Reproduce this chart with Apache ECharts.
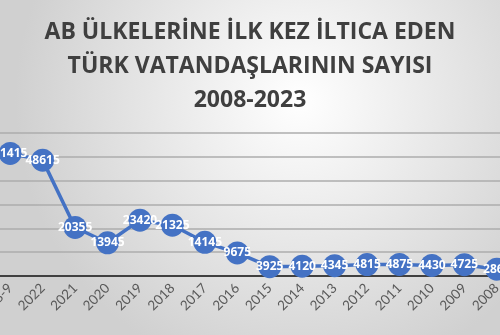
<!DOCTYPE html>
<html>
<head>
<meta charset="utf-8">
<script src="https://cdn.jsdelivr.net/npm/echarts@6/dist/echarts.min.js"></script>
<style>
  html, body { margin: 0; padding: 0; }
  #chart { width: 500px; height: 335px; }
</style>
</head>
<body>
<div id="chart"></div>
<script>
// Yearly first-time asylum applications by Turkish citizens in EU countries
const years = ['2023-9', '2022', '2021', '2020', '2019', '2018', '2017', '2016',
               '2015', '2014', '2013', '2012', '2011', '2010', '2009', '2008'];
const applicants = [51415, 48615, 20355, 13945, 23420, 21325, 14145, 9675,
                    3925, 4120, 4345, 4815, 4875, 4430, 4725, 2860];
const titleLines = ['AB ÜLKELERİNE İLK KEZ İLTICA EDEN', 'TÜRK VATANDAŞLARININ SAYISI', '2008-2023'];

const chart = echarts.init(document.getElementById('chart'), null, { renderer: 'canvas' });

chart.setOption({
  animation: false,
  backgroundColor: {
    type: 'radial', x: 0.6, y: 0.3, r: 0.85,
    colorStops: [
      { offset: 0, color: '#ffffff' },
      { offset: 1, color: '#d0d0d0' }
    ]
  },
  title: {
    text: titleLines.join('\n'),
    left: 'center',
    top: 10,
    textStyle: {
      fontFamily: 'Open Sans',
      fontWeight: 'bold',
      fontSize: 23,
      lineHeight: 34,
      color: '#3f3f3f'
    }
  },
  grid: {
    left: -6, right: -13, top: 133, bottom: 59,
    containLabel: false,
    outerBoundsMode: 'none'
  },
  xAxis: {
    type: 'category',
    data: years,
    boundaryGap: true,
    axisLine: { lineStyle: { color: '#404040', width: 2 } },
    axisTick: { show: false },
    axisLabel: {
      rotate: 45,
      margin: 10,
      color: '#595959',
      fontFamily: 'Lato',
      fontSize: 13.5,
      interval: 0
    }
  },
  yAxis: {
    type: 'value',
    min: 0,
    max: 60000,
    interval: 10000,
    axisLabel: { show: false },
    axisLine: { show: false },
    axisTick: { show: false },
    splitLine: { lineStyle: { color: '#acacac', width: 1.5 } }
  },
  series: [{
    type: 'line',
    data: applicants,
    symbol: 'circle',
    symbolSize: 23,
    itemStyle: { color: '#4472C4' },
    lineStyle: { color: '#4472C4', width: 3.5 },
    label: {
      show: true,
      position: 'inside',
      color: '#ffffff',
      fontFamily: 'Open Sans',
      fontWeight: 'bold',
      fontSize: 12
    }
  }]
});
</script>
</body>
</html>
